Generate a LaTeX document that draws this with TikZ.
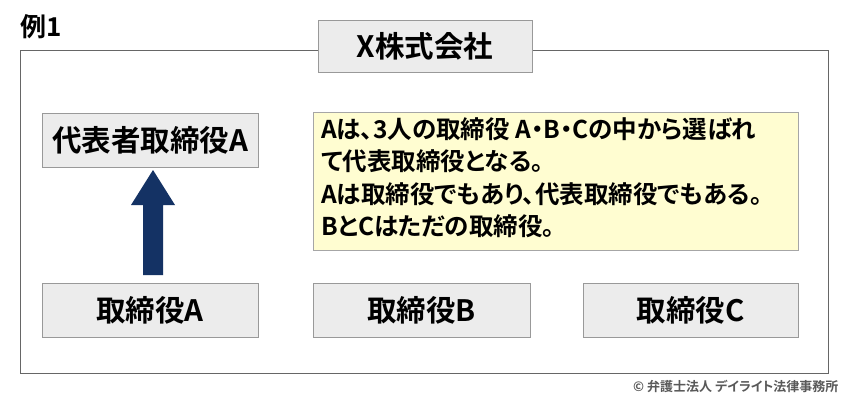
\documentclass[tikz,border=0pt]{standalone}
\usepackage{fontspec}
\setmainfont{Noto Sans CJK JP}[BoldFont={* Bold}]
\newfontfamily\jpb{Noto Sans CJK JP Bold}[RawFeature=+palt]
\begin{document}
\begin{tikzpicture}[x=1pt,y=-1pt,
  gbox/.style={draw=gray!80,fill=gray!15,line width=0.8pt,inner sep=0pt},
  lbl/.style={font=\jpb\fontsize{29.5}{32}\selectfont}]
\useasboundingbox[fill=white] (0,0) rectangle (850,400);
\node[anchor=west,font=\jpb\fontsize{26}{28}\selectfont] (ex) at (17,27) {例1};
\draw[gray!80!black,line width=1pt] (20,50) rectangle (828,373);
\node[gbox,minimum width=214pt,minimum height=52pt,lbl] (x) at (425,46) {X株式会社};
\node[gbox,minimum width=216pt,minimum height=54pt,lbl] (rep) at (150,140) {代表者取締役A};
\node[gbox,minimum width=216pt,minimum height=54pt,lbl] (a) at (150,310) {取締役A};
\node[gbox,minimum width=217pt,minimum height=54pt,lbl] (b) at (421.5,310) {取締役B};
\node[gbox,minimum width=215pt,minimum height=54pt,lbl] (c) at (690.5,310) {取締役C};
\node[draw=gray!70,fill=yellow!18,line width=0.8pt,minimum width=485pt,minimum height=138pt,inner sep=0pt] (note) at (555.5,181) {};
\node[anchor=north west,align=left,font=\jpb\fontsize{24.5}{32.5}\selectfont,inner sep=0pt] (nt) at (321,117)
{Aは、3人の取締役 A・B・Cの中から選ばれ\\て代表取締役となる。\\Aは取締役でもあり、代表取締役でもある。\\BとCはただの取締役。};
\fill[fill={rgb,255:red,20;green,50;blue,100}] (143,275) -- (163,275) -- (163,205) -- (175,205) -- (153,170) -- (131,205) -- (143,205) -- cycle;
\node[anchor=east,font=\jpb\fontsize{13}{14}\selectfont,text=gray!70!black] (cp) at (842,386) {© 弁護士法人 デイライト法律事務所};
\end{tikzpicture}
\end{document}
